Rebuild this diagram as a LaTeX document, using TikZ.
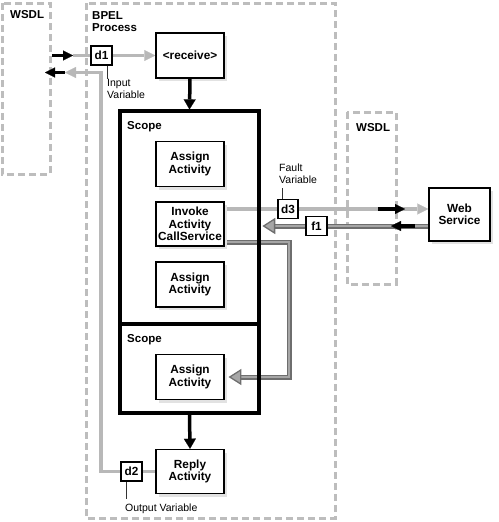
\documentclass[tikz,border=0pt]{standalone}
\usepackage{fontspec}
\setmainfont{Liberation Sans}
\usetikzlibrary{arrows.meta,shadows}
\pgfdeclarelayer{bg}
\pgfdeclarelayer{lines}
\pgfsetlayers{bg,lines,main}
\definecolor{dashgray}{HTML}{BDBDBD}
\definecolor{lgray}{HTML}{B8B8B8}
\definecolor{dgray}{HTML}{6E6E6E}
\definecolor{mgray}{HTML}{A6A6A6}
\definecolor{shgray}{HTML}{E2E2E2}
\begin{document}
\begin{tikzpicture}[x=1pt,y=-1pt,
  box/.style={draw, line width=1.5pt, fill=white, minimum width=68pt, minimum height=45pt,
    align=center, inner sep=1pt, font=\bfseries\fontsize{11.8}{12.5}\selectfont,
    drop shadow={shadow xshift=3pt, shadow yshift=-3pt, fill=shgray, opacity=1}},
  var/.style={draw, line width=1.5pt, fill=white, minimum width=21pt, minimum height=19pt,
    inner sep=0pt, font=\bfseries\fontsize{11.8}{12.5}\selectfont},
  lbl/.style={inner sep=0pt, font=\bfseries\fontsize{11.5}{12.5}\selectfont},
  note/.style={inner sep=0pt, align=left, font=\fontsize{10.5}{12}\selectfont},
  region/.style={draw=dashgray, line width=3pt, dash pattern=on 7pt off 4pt},
  glink/.style={draw=lgray, line width=3.5pt},
  garrow/.style={glink, -{Triangle[length=11pt, width=11pt, line width=0.1pt]}},
  barrow/.style={draw=black, line width=3.5pt, -{Triangle[length=10pt, width=10pt, line width=0.1pt]}},
  flow/.style={draw=black, line width=3.5pt, -{Triangle[length=10pt, width=12pt, line width=0.1pt]}},
  dlink/.style={draw=dgray, line width=1.4pt, double=mgray, double distance=2.2pt},
  darrow/.style={draw=dgray, line width=1.3pt, fill=mgray},
  leader/.style={draw=black!80, line width=0.7pt}
]
\useasboundingbox (0,0) rectangle (498,522);

% regions
\begin{pgfonlayer}{bg}
  \draw[region] (2,3) rectangle (50,174);
  \draw[region] (86,3) rectangle (335,518);
  \draw[region] (347,112) rectangle (396,284);
\end{pgfonlayer}

\node[lbl, anchor=base west] (wsdlL) at (10,18) {WSDL};
\node[lbl, anchor=north west, align=left] (bpel) at (92,11) {BPEL\\Process};
\node[lbl, anchor=base west] (wsdlR) at (356,131) {WSDL};

% nodes
\node[box] (receive) at (190,55.5) {<receive>};
\node[draw, line width=3.2pt, minimum width=139pt, minimum height=302pt, inner sep=0pt] (scope) at (189.5,262) {};
\node[lbl, anchor=base west] (scopeA) at (127,129.5) {Scope};
\node[lbl, anchor=base west] (scopeB) at (127,342) {Scope};
\node[box] (assign1) at (190,164) {Assign\\Activity};
\node[box, minimum height=44pt] (invoke) at (190,224) {Invoke\\Activity\\CallService};
\node[box] (assign2) at (190,284.5) {Assign\\Activity};
\node[box] (assign3) at (190,377) {Assign\\Activity};
\node[box, minimum height=44pt] (reply) at (190,471.5) {Reply\\Activity};
\node[box, minimum width=61pt, minimum height=53pt] (web) at (459.5,214.5) {Web\\Service};

\node[var] (d1) at (101.5,55.5) {d1};
\node[var] (d2) at (131.5,471.5) {d2};
\node[var, minimum width=20pt] (d3) at (288,209) {d3};
\node[var] (f1) at (316.5,226) {f1};

\node[note, anchor=north west] (inlbl) at (107,79.5) {Input\\Variable};
\node[note, anchor=north west] (faultlbl) at (279,163.5) {Fault\\Variable};
\node[note, anchor=base west] (outlbl) at (125,511) {Output Variable};

% divider of the scope
\draw[line width=3.2pt] (scope.west |- 0,324) -- (scope.east |- 0,324);

% coordinates
\coordinate (inA) at (52,55.5);
\coordinate (inB) at (73,55.5);
\coordinate (outC) at (101,72.5);
\coordinate (outD) at (65,72.5);
\coordinate (outE) at (45,72.5);
\coordinate (reqA) at (378,209);
\coordinate (reqB) at (405,209);
\coordinate (resA) at (415,226);
\coordinate (resB) at (391,226);
\coordinate (cs1) at (289,242);
\coordinate (cs2) at (289,377);

\begin{pgfonlayer}{lines}
  % input side
  \draw[glink] (inB) -- (d1.west);
  \draw[garrow] (d1.east) -- (receive.west);
  % output side
  \draw[glink] (d2.east) -- (d2.east -| reply.west);
  \draw[garrow] (d2.west) -| (outC) -- (outD);
  % invoke request
  \draw[garrow] (invoke.east |- d3.center) -- (web.west |- d3.center);
  % fault response
  \draw[dlink, shorten >=10pt] (web.west |- f1.center) -- ([xshift=3pt]scope.east |- f1.center);
  % callservice to assign
  \draw[dlink, shorten >=10pt] (invoke.east |- cs1) -- (cs1) -- (cs2) -- ([xshift=5pt]assign3.east |- cs2);
\end{pgfonlayer}

% arrowheads of the double lines
\draw[darrow] ([xshift=3pt]scope.east |- f1.center) -- ++(11,-7) -- ++(0,14) -- cycle;
\draw[darrow] ([xshift=5pt]assign3.east |- cs2) -- ++(11,-7) -- ++(0,14) -- cycle;

% black arrows
\draw[barrow] (inA) -- (inB);
\draw[barrow] (outD) -- (outE);
\draw[barrow] (reqA) -- (reqB);
\draw[barrow] (resA) -- (resB);

% process flow
\draw[flow] (receive.south) -- (scope.north);
\draw[flow] (scope.south) -- (reply.north);

% leaders
\draw[leader] ([xshift=6pt]d1.south) -- +(0,13);
\draw[leader] ([xshift=-6pt]d3.north) -- +(0,-11);
\draw[leader] ([xshift=-5.5pt]d2.south) -- +(0,17);
\end{tikzpicture}
\end{document}
